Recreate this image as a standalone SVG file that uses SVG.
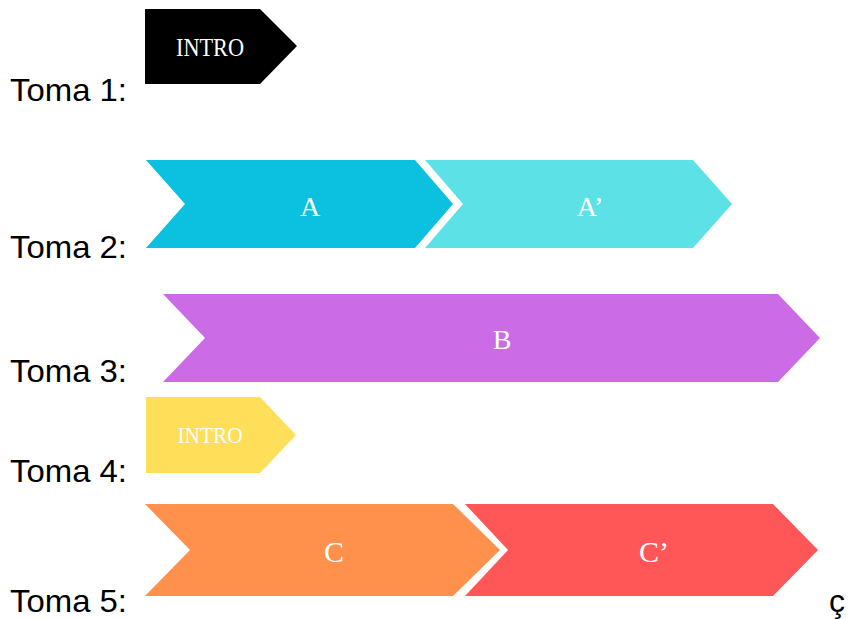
<svg xmlns="http://www.w3.org/2000/svg" width="856" height="619" viewBox="0 0 856 619">
  <style>
    .lbl { font-family: "Liberation Sans", Arial, sans-serif; font-size: 32px; fill: #000; }
    .tag { font-family: "Liberation Serif", "Times New Roman", serif; fill: #fff; text-anchor: middle; dominant-baseline: central; }
  </style>
  <rect width="856" height="619" fill="#fff"/>

  <!-- row labels -->
  <g id="labels">
    <text class="lbl" x="10" y="101" textLength="117" lengthAdjust="spacingAndGlyphs">Toma 1:</text>
    <text class="lbl" x="10" y="258" textLength="117" lengthAdjust="spacingAndGlyphs">Toma 2:</text>
    <text class="lbl" x="10" y="382" textLength="117" lengthAdjust="spacingAndGlyphs">Toma 3:</text>
    <text class="lbl" x="10" y="482" textLength="117" lengthAdjust="spacingAndGlyphs">Toma 4:</text>
    <text class="lbl" x="10" y="612" textLength="117" lengthAdjust="spacingAndGlyphs">Toma 5:</text>
    <text class="lbl" x="829" y="612">ç</text>
  </g>

  <g id="intro1">
    <polygon points="145,9 260,9 297,46 260,84 145,84" fill="#000"/>
    <text class="tag" x="210" y="47" font-size="25" textLength="68" lengthAdjust="spacingAndGlyphs">INTRO</text>
  </g>

  <g id="a">
    <polygon points="146,160 415,160 453,204 415,248 146,248 185,204" fill="#0CC0DF"/>
    <text class="tag" x="310" y="206" font-size="28">A</text>
  </g>
  <g id="a-prime">
    <polygon points="425,160 693,160 732,204 693,248 425,248 463,204" fill="#5CE1E6"/>
    <text class="tag" x="590" y="206" font-size="28">A’</text>
  </g>

  <g id="b">
    <polygon points="163,294 778,294 820,338 778,382 163,382 205,338" fill="#CB6CE6"/>
    <text class="tag" x="502" y="339" font-size="28">B</text>
  </g>

  <g id="intro4">
    <polygon points="146,397 260,397 296,435 260,473 146,473" fill="#FFDE59"/>
    <text class="tag" x="210" y="435" font-size="23" textLength="65" lengthAdjust="spacingAndGlyphs">INTRO</text>
  </g>

  <g id="c">
    <polygon points="145,504 453,504 500,550 453,596 145,596 190,550" fill="#FF914D"/>
    <text class="tag" x="334" y="551" font-size="30">C</text>
  </g>
  <g id="c-prime">
    <polygon points="465,504 773,504 818,550 773,596 465,596 508,550" fill="#FF5757"/>
    <text class="tag" x="654" y="551" font-size="30">C’</text>
  </g>
</svg>
